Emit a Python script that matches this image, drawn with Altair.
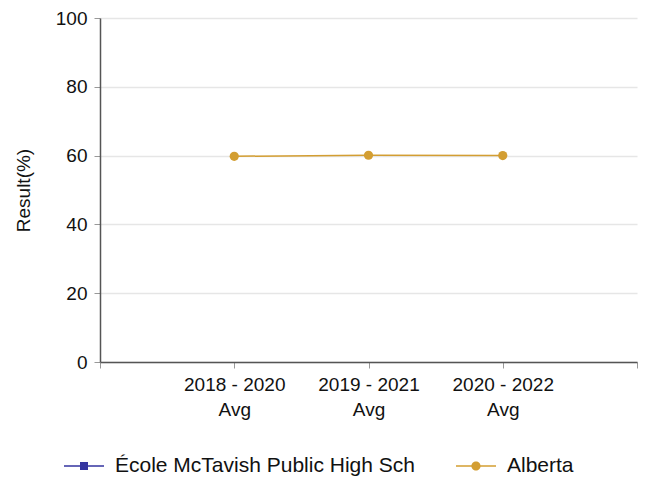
import altair as alt
import pandas as pd

# ---- data ----
periods = ["2018 - 2020 Avg", "2019 - 2021 Avg", "2020 - 2022 Avg"]
series_names = ["École McTavish Public High Sch", "Alberta"]
school_values = [None, None, None]
alberta_values = [59.8, 60.1, 60.0]
y_ticks = [0, 20, 40, 60, 80, 100]

colors = ["#3535a0", "#d39e32"]
FONT = "Liberation Sans, Arial, sans-serif"

rows = []
for i, p in enumerate(periods):
    rows.append({"period": p, "idx": i + 1, "series": series_names[0], "value": school_values[i]})
    rows.append({"period": p, "idx": i + 1, "series": series_names[1], "value": alberta_values[i]})
df = pd.DataFrame(rows)

# multi-line x labels from the period names
expr = "''"
for i in reversed(range(len(periods))):
    first, last = periods[i].rsplit(" ", 1)
    expr = f"datum.value == {i + 1} ? ['{first}', '{last}'] : ({expr})"

x_enc = alt.X(
    "idx:Q",
    scale=alt.Scale(domain=[0, len(periods) + 1], nice=False, zero=False),
    axis=alt.Axis(
        title=None, values=list(range(len(periods) + 2)), labelExpr=expr,
        grid=False, tickSize=6, tickColor="#999999", domainColor="#555555",
        domainWidth=1.5, labelFont=FONT, labelFontSize=19, labelColor="#111111",
        labelPadding=7, labelLineHeight=25, labelFlush=False, labelOverlap=False,
    ),
)
y_enc = alt.Y(
    "value:Q",
    scale=alt.Scale(domain=[0, 100], nice=False),
    axis=alt.Axis(
        title="Result(%)", values=y_ticks, grid=True, gridColor="#e6e6e6",
        gridWidth=1.5, tickSize=6, tickColor="#999999", domainColor="#555555",
        domainWidth=1.5, labelFont=FONT, labelFontSize=19, labelColor="#111111",
        labelPadding=7, titleFont=FONT, titleFontSize=19, titleFontWeight="normal",
        titleColor="#111111", titlePadding=22,
    ),
)

# per-series colour of the drawn marks, taken from the same lists
series_color = alt.condition(
    alt.datum.series == series_names[1], alt.value(colors[1]), alt.value(colors[0])
)
base = alt.Chart(df)

lines = base.mark_line(strokeWidth=1.5).encode(
    x=x_enc, y=y_enc, color=series_color, detail="series:N",
)
points = base.mark_circle(size=85, opacity=1).encode(
    x=x_enc, y=y_enc, color=series_color,
)

# legend symbols: a thin bar (the line) with the series marker in its middle
shape_paths = [
    "M-1,-0.04H1V0.04H-1ZM-0.2,-0.2H0.2V0.2H-0.2Z",
    "M-1,-0.04H1V0.04H-1ZM-0.23,0A0.23,0.23,0,1,1,0.23,0A0.23,0.23,0,1,1,-0.23,0Z",
]
leg = alt.Legend(
    title=None, orient="none", legendX=-36, legendY=428, direction="horizontal",
    columnPadding=41, symbolSize=1600, symbolStrokeWidth=0,
    labelFont=FONT, labelFontSize=21, labelColor="#111111", labelOffset=11,
    labelLimit=500, symbolOpacity=1,
)
legend_layer = base.mark_point(filled=True, opacity=0).encode(
    x=x_enc, y=y_enc,
    color=alt.Color("series:N", scale=alt.Scale(domain=series_names, range=colors), legend=leg),
    shape=alt.Shape("series:N", scale=alt.Scale(domain=series_names, range=shape_paths), legend=leg),
)

chart = alt.layer(lines, points, legend_layer).properties(
    width=537, height=344,
    autosize=alt.AutoSizeParams(type="none"),
    padding={"left": 92, "top": 10, "right": 2, "bottom": 116},
).configure_view(stroke=None)

chart.save("out.html", embed_options={"renderer": "svg", "actions": False})
